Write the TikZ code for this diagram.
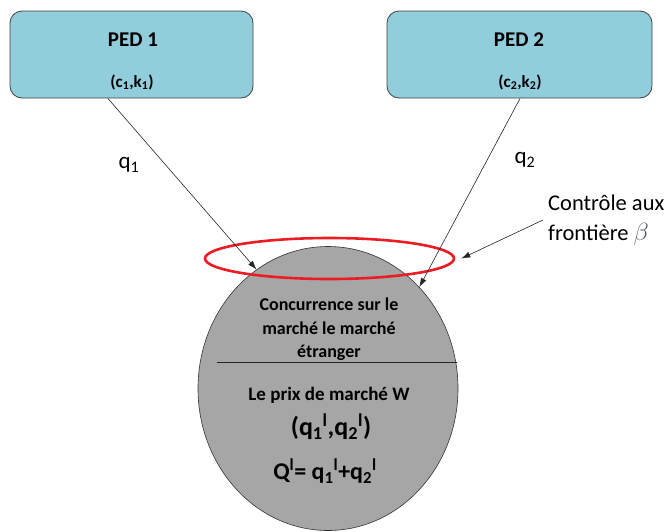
\documentclass[tikz,border=0pt]{standalone}
\usepackage{fontspec}
\setmainfont{Carlito}
\usetikzlibrary{shapes.geometric,arrows.meta,calc}
\definecolor{boxblue}{RGB}{146,205,220}
\definecolor{ovalgray}{RGB}{166,166,166}
\definecolor{ringred}{RGB}{235,28,36}
\definecolor{betagray}{RGB}{80,88,105}
\begin{document}
\begin{tikzpicture}[x=1pt,y=-1pt,
  pedbox/.style={draw=black!75, fill=boxblue, rounded corners=12pt, line width=0.8pt, minimum height=87pt, inner sep=0pt},
  oval/.style={ellipse, draw=black!80, fill=ovalgray, line width=0.6pt, minimum width=260pt, minimum height=284pt, inner sep=0pt},
  ring/.style={ellipse, draw=ringred, line width=2.6pt, minimum width=249pt, minimum height=41pt, inner sep=0pt},
  flow/.style={draw=black!85, line width=0.6pt, -{Latex[length=9pt,width=6pt]}},
  boldtxt/.style={font=\bfseries\fontsize{18}{21}\selectfont, inner sep=0pt, align=center},
  bigtxt/.style={font=\bfseries\fontsize{24}{27}\selectfont, inner sep=0pt},
  lbl/.style={font=\fontsize{23}{28}\selectfont, inner sep=0pt},
  pedtitle/.style={font=\bfseries\fontsize{21}{24}\selectfont, inner sep=0pt},
  pedsub/.style={font=\bfseries\fontsize{17}{20}\selectfont, inner sep=0pt}
]
\useasboundingbox (0,0) rectangle (668,531);
% boxes
\node[pedbox, minimum width=243pt] (ped1) at (131.5,54.5) {};
\node[pedbox, minimum width=265pt] (ped2) at (519.5,54.5) {};
\node[pedtitle] (t1) at (133,40) {PED 1};
\node[pedsub] (s1) at (132,82) {(c\textsubscript{1},k\textsubscript{1})};
\node[pedtitle] (t2) at (519,40) {PED 2};
\node[pedsub] (s2) at (520,82) {(c\textsubscript{2},k\textsubscript{2})};
% market oval
\node[oval] (circ) at (328,388.5) {};
\node[ring] (ring) at (329.5,258.5) {};
\coordinate (lineL) at (217,362);
\coordinate (lineR) at (457,362);
\draw[black!85, line width=0.7pt] (lineL) -- (lineR);
\node[boldtxt] (conc) at (329,329.5) {Concurrence sur le\\[3pt]marché le marché\\[2pt]étranger};
\node[boldtxt, font=\bfseries\fontsize{19}{22}\selectfont] (prix) at (329,395) {Le prix de marché W};
\node[bigtxt, font=\bfseries\fontsize{26}{29}\selectfont] (qq) at (331,427) {(q\textsubscript{1}\textsuperscript{l},q\textsubscript{2}\textsuperscript{l})};
\node[bigtxt] (QQ) at (325,471) {Q\textsuperscript{l}= q\textsubscript{1}\textsuperscript{l}+q\textsubscript{2}\textsuperscript{l}};
% labels
\node[lbl] (q1) at (129,165) {q\textsubscript{1}};
\node[lbl] (q2) at (525,160) {q\textsubscript{2}};
\node[font=\fontsize{22.5}{30}\selectfont, inner sep=0pt, align=left, anchor=west] (ctrl) at (548,220) {Contrôle aux\\frontière \textcolor{betagray}{\fontsize{30}{30}\selectfont$\beta$}};
% connectors
\coordinate (a1s) at ($(ped1.south west)!0.403!(ped1.south east)$);
\coordinate (a2s) at ($(ped2.south west)!0.502!(ped2.south east)$);
\draw[flow] (a1s) -- (circ.121.5);
\draw[flow] (a2s) -- (circ.48);
\coordinate (ctip) at ([xshift=6pt]ring.east);
\draw[flow] ([xshift=-5pt]ctrl.west) -- (ctip);
\end{tikzpicture}
\end{document}
